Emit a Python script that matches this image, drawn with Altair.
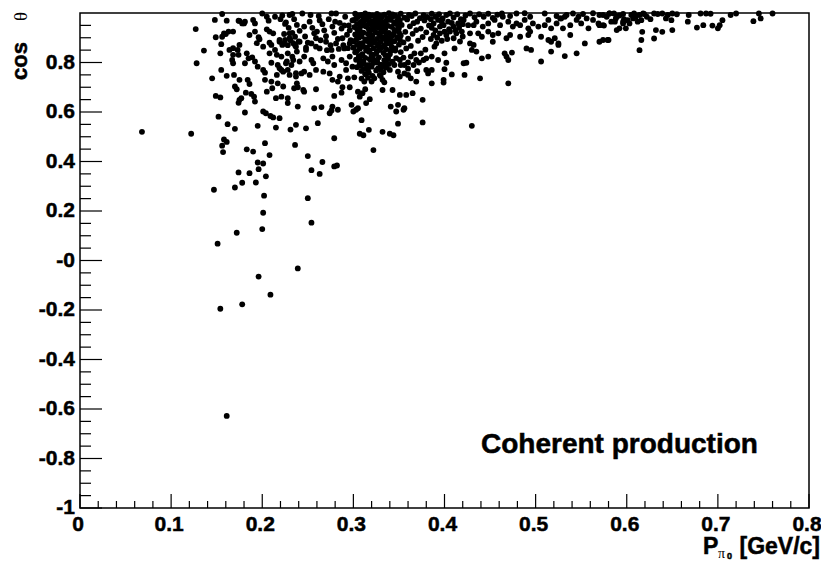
import altair as alt
import pandas as pd

# ---- data: (P_pi0 [GeV/c], cos theta) ----
low_pts = [
    (0.068, 0.520), (0.122, 0.512), (0.158, 0.489), (0.161, 0.479), (0.156, 0.464), (0.157, 0.438),
    (0.203, 0.474), (0.183, 0.449), (0.190, 0.440), (0.208, 0.426), (0.195, 0.396), (0.201, 0.392),
    (0.196, 0.369), (0.174, 0.356), (0.186, 0.353), (0.204, 0.340), (0.178, 0.314), (0.193, 0.315),
    (0.170, 0.295), (0.147, 0.286), (0.202, 0.262), (0.201, 0.193), (0.200, 0.127), (0.172, 0.112),
    (0.151, 0.068), (0.196, -0.065), (0.239, -0.032), (0.209, -0.138), (0.178, -0.177), (0.154, -0.195),
    (0.161, -0.628), (0.236, 0.467), (0.250, 0.422), (0.266, 0.398), (0.254, 0.365), (0.263, 0.350),
    (0.250, 0.252), (0.254, 0.153), (0.279, 0.380), (0.282, 0.384), (0.322, 0.446), (0.430, 0.544),
    (0.279, 0.494), (0.307, 0.512), (0.311, 0.506), (0.317, 0.528), (0.332, 0.520), (0.340, 0.512),
    (0.344, 0.506), (0.231, 0.529), (0.215, 0.537), (0.170, 0.532), (0.248, 0.534), (0.162, 0.551),
    (0.195, 0.544), (0.237, 0.548), (0.261, 0.555), (0.309, 0.567), (0.349, 0.553), (0.376, 0.558),
]

left_pts = [
    (0.127, 0.935), (0.136, 0.848), (0.128, 0.797), (0.145, 0.736), (0.149, 0.665), (0.154, 0.659),
    (0.152, 0.581), (0.148, 0.972), (0.156, 0.996), (0.161, 0.969), (0.149, 0.902), (0.156, 0.904),
    (0.158, 0.918), (0.163, 0.925), (0.168, 0.925), (0.174, 0.969), (0.178, 0.958), (0.181, 0.965),
    (0.190, 0.972), (0.192, 0.958), (0.200, 0.998), (0.205, 0.985), (0.207, 0.969), (0.214, 0.985),
    (0.220, 0.975), (0.225, 0.956), (0.230, 0.992), (0.233, 0.996), (0.155, 0.874), (0.164, 0.851),
    (0.168, 0.858), (0.173, 0.851), (0.175, 0.871), (0.168, 0.831), (0.174, 0.831), (0.183, 0.837),
    (0.185, 0.817), (0.181, 0.797), (0.167, 0.810), (0.168, 0.797), (0.154, 0.837), (0.155, 0.770),
    (0.161, 0.746), (0.169, 0.750), (0.175, 0.730), (0.170, 0.703), (0.172, 0.692), (0.184, 0.730),
    (0.186, 0.713), (0.182, 0.678), (0.175, 0.649), (0.177, 0.656), (0.174, 0.637), (0.188, 0.673),
    (0.191, 0.662), (0.192, 0.642), (0.181, 0.598), (0.189, 0.821), (0.192, 0.804), (0.195, 0.783),
    (0.201, 0.770), (0.203, 0.759), (0.194, 0.878), (0.201, 0.864), (0.186, 0.911), (0.192, 0.925),
    (0.196, 0.902), (0.197, 0.894), (0.205, 0.934), (0.208, 0.925), (0.212, 0.918), (0.208, 0.880),
    (0.210, 0.871), (0.214, 0.851), (0.219, 0.884), (0.222, 0.871), (0.208, 0.837), (0.216, 0.831),
    (0.210, 0.799), (0.217, 0.790), (0.221, 0.770), (0.203, 0.730), (0.210, 0.723), (0.216, 0.750),
    (0.205, 0.682), (0.211, 0.696), (0.215, 0.656), (0.221, 0.662), (0.228, 0.656), (0.217, 0.716),
    (0.223, 0.703), (0.238, 0.716), (0.239, 0.700), (0.237, 0.757), (0.230, 0.750), (0.228, 0.636),
    (0.239, 0.622), (0.201, 0.602), (0.204, 0.595), (0.209, 0.584), (0.212, 0.578), (0.219, 0.575),
    (0.230, 0.918), (0.236, 0.904), (0.234, 0.878), (0.225, 0.891), (0.228, 0.837), (0.233, 0.824),
    (0.238, 0.844), (0.227, 0.804), (0.232, 0.790), (0.160, 0.915), (0.175, 0.968), (0.180, 0.958),
]

mid_pts = [
    (0.221, 0.824), (0.226, 0.797), (0.234, 0.810), (0.241, 0.804), (0.246, 0.824), (0.254, 0.810),
    (0.256, 0.797), (0.267, 0.817), (0.272, 0.804), (0.277, 0.824), (0.279, 0.790), (0.287, 0.810),
    (0.292, 0.797), (0.296, 0.824), (0.299, 0.783), (0.351, 0.810), (0.356, 0.790),
    (0.363, 0.824), (0.369, 0.810), (0.374, 0.837), (0.380, 0.817),
    (0.223, 0.763), (0.228, 0.770), (0.219, 0.777), (0.237, 0.743), (0.243, 0.756), (0.246, 0.763),
    (0.252, 0.750), (0.259, 0.770), (0.267, 0.763), (0.274, 0.756), (0.277, 0.730), (0.283, 0.723),
    (0.285, 0.743), (0.292, 0.770), (0.294, 0.736), (0.301, 0.740), (0.309, 0.735), (0.312, 0.723),
    (0.316, 0.738), (0.320, 0.723), (0.323, 0.736), (0.330, 0.745), (0.332, 0.730),
    (0.334, 0.720), (0.349, 0.763), (0.351, 0.743), (0.356, 0.756), (0.360, 0.750), (0.363, 0.736),
    (0.380, 0.770), (0.382, 0.756), (0.369, 0.723),
    (0.235, 0.696), (0.245, 0.689), (0.246, 0.682), (0.259, 0.692), (0.279, 0.665), (0.287, 0.678),
    (0.288, 0.700), (0.296, 0.700), (0.305, 0.682), (0.307, 0.662), (0.310, 0.676), (0.313, 0.692),
    (0.332, 0.689), (0.343, 0.689), (0.351, 0.669), (0.358, 0.669), (0.365, 0.676), (0.376, 0.649),
    (0.257, 0.615), (0.265, 0.620), (0.277, 0.622), (0.283, 0.609), (0.298, 0.629), (0.305, 0.615),
    (0.314, 0.636), (0.318, 0.652), (0.341, 0.622), (0.349, 0.629), (0.356, 0.615), (0.274, 0.595),
    (0.276, 0.606), (0.300, 0.602), (0.303, 0.609), (0.347, 0.602), (0.355, 0.609),
    (0.340, 0.770), (0.345, 0.790), (0.352, 0.790), (0.360, 0.800), (0.366, 0.790), (0.372, 0.800),
    (0.377, 0.810), (0.355, 0.820), (0.360, 0.775), (0.370, 0.765),
]

band_pts = [
    (0.222, 0.990), (0.226, 0.962), (0.229, 0.940), (0.224, 0.915), (0.231, 0.890), (0.235, 0.975),
    (0.238, 0.952), (0.241, 0.928), (0.236, 0.870), (0.244, 0.998), (0.247, 0.905), (0.250, 0.880),
    (0.252, 0.965), (0.255, 0.940), (0.257, 0.918), (0.259, 0.864), (0.262, 0.988), (0.264, 0.890),
    (0.266, 0.955), (0.268, 0.930), (0.270, 0.906), (0.273, 0.975), (0.275, 0.870), (0.277, 0.945),
    (0.279, 0.920), (0.281, 0.998), (0.283, 0.895), (0.285, 0.960), (0.287, 0.937), (0.289, 0.870),
    (0.291, 0.985), (0.293, 0.912), (0.295, 0.950), (0.297, 0.890), (0.299, 0.970), (0.228, 0.870),
    (0.233, 0.920), (0.246, 0.945), (0.253, 0.992), (0.260, 0.925), (0.271, 0.850), (0.276, 0.998),
    (0.284, 0.855), (0.290, 0.950), (0.296, 0.930), (0.240, 0.885), (0.248, 0.860), (0.263, 0.970),
    (0.280, 0.965), (0.294, 0.858), (0.219, 0.891), (0.224, 0.877), (0.230, 0.898), (0.237, 0.864),
    (0.241, 0.884), (0.248, 0.851), (0.254, 0.877), (0.259, 0.898), (0.263, 0.857), (0.270, 0.884),
    (0.276, 0.851), (0.281, 0.877), (0.288, 0.898), (0.290, 0.857), (0.296, 0.877),
]

# densest blob (x 0.30-0.35, cos 0.75-1) and the medium-dense part to its right
core_pts = [
    (0.302, 0.997), (0.309, 0.992), (0.313, 0.998), (0.321, 0.990), (0.326, 0.996), (0.334, 0.993),
    (0.339, 0.999), (0.346, 0.989), (0.352, 0.997), (0.361, 0.992), (0.368, 0.998), (0.377, 0.991),
    (0.305, 0.985), (0.311, 0.978), (0.318, 0.987), (0.324, 0.980), (0.331, 0.983), (0.337, 0.977),
    (0.343, 0.986), (0.356, 0.981), (0.364, 0.988), (0.373, 0.979), (0.381, 0.984),
    (0.300, 0.971), (0.308, 0.964), (0.315, 0.973), (0.320, 0.966), (0.328, 0.969), (0.333, 0.963),
    (0.341, 0.972), (0.348, 0.967), (0.359, 0.974), (0.370, 0.965), (0.378, 0.970),
    (0.304, 0.956), (0.312, 0.949), (0.317, 0.958), (0.325, 0.951), (0.330, 0.954), (0.338, 0.948),
    (0.345, 0.957), (0.353, 0.952), (0.366, 0.959), (0.383, 0.950),
    (0.301, 0.943), (0.307, 0.936), (0.314, 0.945), (0.322, 0.938), (0.327, 0.941), (0.335, 0.935),
    (0.342, 0.944), (0.350, 0.939), (0.362, 0.946), (0.374, 0.937),
    (0.305, 0.928), (0.311, 0.921), (0.319, 0.930), (0.324, 0.923), (0.332, 0.926), (0.339, 0.920),
    (0.347, 0.929), (0.357, 0.924), (0.369, 0.931), (0.380, 0.922),
    (0.302, 0.913), (0.309, 0.906), (0.316, 0.915), (0.321, 0.908), (0.329, 0.911), (0.336, 0.905),
    (0.344, 0.914), (0.352, 0.909), (0.365, 0.916),
    (0.306, 0.900), (0.313, 0.893), (0.318, 0.902), (0.326, 0.895), (0.333, 0.898), (0.340, 0.892),
    (0.348, 0.901), (0.360, 0.896), (0.376, 0.903),
    (0.300, 0.885), (0.310, 0.878), (0.315, 0.887), (0.323, 0.880), (0.330, 0.883), (0.337, 0.877),
    (0.345, 0.886), (0.355, 0.881), (0.371, 0.888),
    (0.304, 0.871), (0.311, 0.864), (0.319, 0.873), (0.327, 0.866), (0.334, 0.869), (0.342, 0.863),
    (0.350, 0.872), (0.363, 0.867),
    (0.307, 0.856), (0.314, 0.849), (0.322, 0.858), (0.329, 0.851), (0.336, 0.854), (0.346, 0.848),
    (0.358, 0.857), (0.379, 0.852),
    (0.302, 0.841), (0.310, 0.834), (0.317, 0.843), (0.325, 0.836), (0.333, 0.839), (0.340, 0.833),
    (0.352, 0.842), (0.367, 0.837),
    (0.306, 0.826), (0.313, 0.819), (0.320, 0.828), (0.328, 0.821), (0.338, 0.824), (0.347, 0.818),
    (0.303, 0.811), (0.311, 0.804), (0.318, 0.813), (0.326, 0.806), (0.334, 0.809), (0.343, 0.803),
    (0.307, 0.796), (0.315, 0.789), (0.322, 0.798), (0.330, 0.791), (0.339, 0.794),
    (0.304, 0.781), (0.312, 0.774), (0.320, 0.783), (0.327, 0.776), (0.336, 0.779),
    (0.309, 0.766), (0.317, 0.759), (0.325, 0.768), (0.333, 0.761),
    (0.313, 0.753), (0.321, 0.746), (0.329, 0.750),
]

# the blob is nearly solid black: more events in between
core_fill_pts = [
    (0.306, 0.990), (0.317, 0.993), (0.330, 0.988), (0.343, 0.994), (0.349, 0.982),
    (0.303, 0.978), (0.314, 0.980), (0.328, 0.976), (0.340, 0.979), (0.351, 0.970),
    (0.311, 0.966), (0.324, 0.961), (0.336, 0.967), (0.345, 0.962),
    (0.308, 0.950), (0.320, 0.952), (0.334, 0.946), (0.349, 0.950),
    (0.304, 0.936), (0.317, 0.934), (0.330, 0.937), (0.345, 0.932),
    (0.308, 0.918), (0.327, 0.919), (0.336, 0.916), (0.350, 0.922),
    (0.305, 0.905), (0.318, 0.908), (0.331, 0.903), (0.342, 0.906),
    (0.303, 0.892), (0.321, 0.890), (0.336, 0.889), (0.351, 0.893),
    (0.307, 0.876), (0.318, 0.879), (0.327, 0.874), (0.341, 0.878),
    (0.300, 0.860), (0.315, 0.861), (0.331, 0.862), (0.346, 0.857),
    (0.304, 0.846), (0.318, 0.848), (0.326, 0.845), (0.341, 0.846),
    (0.309, 0.829), (0.322, 0.832), (0.335, 0.830),
    (0.307, 0.815), (0.322, 0.812), (0.338, 0.815),
    (0.311, 0.797), (0.326, 0.800), (0.335, 0.800),
    (0.308, 0.787), (0.318, 0.790), (0.333, 0.786),
    (0.316, 0.770), (0.330, 0.772),
]

right_pts = [
    (0.386, 0.997), (0.390, 0.985), (0.394, 0.995), (0.398, 0.978), (0.402, 0.992), (0.406, 0.998),
    (0.410, 0.982), (0.414, 0.995), (0.418, 0.975), (0.423, 0.990), (0.428, 0.998), (0.433, 0.983),
    (0.438, 0.995), (0.443, 0.985), (0.448, 0.997), (0.453, 0.980), (0.458, 0.993), (0.463, 0.998),
    (0.472, 0.988), (0.479, 0.998), (0.488, 0.999), (0.494, 0.985), (0.510, 0.998), (0.523, 0.988),
    (0.528, 0.978), (0.534, 0.992), (0.541, 0.998), (0.547, 0.985), (0.552, 0.996), (0.563, 0.999),
    (0.570, 0.992), (0.581, 0.998), (0.589, 0.985), (0.596, 0.996),
    (0.388, 0.958), (0.393, 0.972), (0.399, 0.951), (0.404, 0.965), (0.410, 0.945), (0.415, 0.958),
    (0.421, 0.972), (0.426, 0.951), (0.432, 0.951), (0.435, 0.965), (0.442, 0.945), (0.448, 0.958),
    (0.455, 0.972), (0.461, 0.951), (0.464, 0.985), (0.470, 0.965), (0.475, 0.945), (0.479, 0.958),
    (0.483, 0.951), (0.488, 0.972), (0.492, 0.938), (0.494, 0.925), (0.497, 0.958), (0.503, 0.945),
    (0.510, 0.951), (0.514, 0.972), (0.517, 0.938), (0.523, 0.958), (0.527, 0.978), (0.530, 0.938),
    (0.532, 0.985), (0.538, 0.951), (0.545, 0.972), (0.550, 0.958), (0.556, 0.978), (0.558, 0.938),
    (0.563, 0.972), (0.569, 0.958), (0.574, 0.951), (0.587, 0.965), (0.589, 0.931), (0.596, 0.958),
    (0.388, 0.911), (0.395, 0.918), (0.402, 0.911), (0.406, 0.925), (0.413, 0.918), (0.419, 0.925),
    (0.428, 0.918), (0.437, 0.918), (0.441, 0.904), (0.448, 0.925), (0.453, 0.911), (0.453, 0.884),
    (0.459, 0.918), (0.468, 0.898), (0.472, 0.911), (0.483, 0.904), (0.492, 0.911), (0.506, 0.904),
    (0.514, 0.891), (0.517, 0.884), (0.521, 0.898), (0.525, 0.877), (0.538, 0.911), (0.554, 0.877),
    (0.570, 0.884), (0.580, 0.891),
    (0.389, 0.864), (0.391, 0.877), (0.386, 0.824), (0.400, 0.837), (0.411, 0.857), (0.421, 0.797),
    (0.424, 0.799), (0.428, 0.877), (0.430, 0.851), (0.432, 0.871), (0.435, 0.844), (0.441, 0.817),
    (0.448, 0.824), (0.466, 0.837), (0.468, 0.824), (0.470, 0.810), (0.474, 0.840), (0.490, 0.857),
    (0.495, 0.851), (0.506, 0.804), (0.517, 0.844), (0.525, 0.871), (0.532, 0.826), (0.545, 0.837),
    (0.386, 0.770), (0.393, 0.810), (0.400, 0.773), (0.402, 0.799), (0.408, 0.752), (0.422, 0.750),
    (0.439, 0.736), (0.399, 0.730), (0.399, 0.719), (0.386, 0.716), (0.470, 0.716),
    (0.386, 0.940), (0.390, 0.930), (0.395, 0.945), (0.400, 0.925), (0.405, 0.935), (0.408, 0.960),
    (0.412, 0.930), (0.416, 0.940), (0.420, 0.905), (0.385, 0.895), (0.392, 0.900), (0.397, 0.888),
    (0.403, 0.895), (0.410, 0.898), (0.417, 0.885), (0.385, 0.975), (0.397, 0.965), (0.420, 0.955),
]

far_pts = [
    (0.574, 0.992), (0.581, 0.998), (0.586, 0.998), (0.588, 0.978), (0.592, 0.938), (0.596, 0.965),
    (0.599, 0.938), (0.601, 0.971), (0.605, 0.992), (0.607, 0.978), (0.608, 0.998), (0.610, 0.985),
    (0.614, 0.992), (0.616, 0.971), (0.618, 0.998), (0.619, 0.996), (0.617, 0.924), (0.616, 0.891),
    (0.614, 0.850), (0.630, 0.998), (0.634, 0.996), (0.639, 0.998), (0.643, 0.978), (0.649, 0.971),
    (0.650, 0.998), (0.632, 0.931), (0.639, 0.924), (0.650, 0.931), (0.630, 0.897), (0.668, 0.992),
    (0.667, 0.965), (0.677, 0.941), (0.681, 0.998), (0.684, 0.951), (0.687, 0.998), (0.692, 0.997),
    (0.694, 0.949), (0.700, 0.938), (0.702, 0.951), (0.705, 0.971), (0.714, 0.992), (0.720, 0.998),
    (0.739, 0.967), (0.747, 0.978), (0.745, 0.998), (0.760, 0.998), (0.574, 0.891), (0.579, 0.891),
    (0.570, 0.951), (0.575, 0.949), (0.578, 0.985), (0.583, 0.965), (0.592, 0.990), (0.597, 0.975),
    (0.603, 0.958), (0.612, 0.965), (0.622, 0.985), (0.626, 0.975), (0.645, 0.992), (0.655, 0.995),
]

# ---- axis ticks and labels ----
x_major_ticks = [0, 0.1, 0.2, 0.3, 0.4, 0.5, 0.6, 0.7, 0.8]
x_tick_labels = ["0", "0.1", "0.2", "0.3", "0.4", "0.5", "0.6", "0.7", "0.8"]
x_minor_ticks = [0.02, 0.04, 0.06, 0.08, 0.12, 0.14, 0.16, 0.18, 0.22, 0.24, 0.26, 0.28,
                 0.32, 0.34, 0.36, 0.38, 0.42, 0.44, 0.46, 0.48, 0.52, 0.54, 0.56, 0.58,
                 0.62, 0.64, 0.66, 0.68, 0.72, 0.74, 0.76, 0.78]
y_major_ticks = [-1, -0.8, -0.6, -0.4, -0.2, 0, 0.2, 0.4, 0.6, 0.8]
y_tick_labels = ["-1", "-0.8", "-0.6", "-0.4", "-0.2", "-0", "0.2", "0.4", "0.6", "0.8"]
y_minor_ticks = [-0.95, -0.9, -0.85, -0.75, -0.7, -0.65, -0.55, -0.5, -0.45, -0.35, -0.3, -0.25,
                 -0.15, -0.1, -0.05, 0.05, 0.1, 0.15, 0.25, 0.3, 0.35, 0.45, 0.5, 0.55,
                 0.65, 0.7, 0.75, 0.85, 0.9, 0.95]

annotation = ["Coherent production"]
x_title_main = ["P"]
x_title_sub = ["π"]
x_title_subsub = ["0"]
x_title_unit = ["[GeV/c]"]
y_title_main = ["cos"]
y_title_sym = ["θ"]

all_pts = (low_pts + left_pts + mid_pts + band_pts + core_pts + core_fill_pts
           + right_pts + far_pts)
df = pd.DataFrame(all_pts, columns=["p", "c"])

FONT = "Liberation Sans"
HEAVY = dict(stroke="black", strokeWidth=0.5)

points = alt.Chart(df).mark_circle(size=34, color="black", opacity=1).encode(
    x=alt.X("p:Q", scale=alt.Scale(domain=[0, 0.8], nice=False, zero=False), axis=None),
    y=alt.Y("c:Q", scale=alt.Scale(domain=[-1, 1], nice=False, zero=False), axis=None),
)

xmaj = alt.Chart(pd.DataFrame({"p": x_major_ticks})).mark_rule(color="black", strokeWidth=1.2).encode(
    x="p:Q", y=alt.value(495), y2=alt.value(481))
xmin = alt.Chart(pd.DataFrame({"p": x_minor_ticks})).mark_rule(color="black", strokeWidth=1.2).encode(
    x="p:Q", y=alt.value(495), y2=alt.value(488))
ymaj = alt.Chart(pd.DataFrame({"c": y_major_ticks})).mark_rule(color="black", strokeWidth=1.2).encode(
    y="c:Q", x=alt.value(0), x2=alt.value(22))
ymin = alt.Chart(pd.DataFrame({"c": y_minor_ticks})).mark_rule(color="black", strokeWidth=1.2).encode(
    y="c:Q", x=alt.value(0), x2=alt.value(11))

xlab = alt.Chart(pd.DataFrame({"p": x_major_ticks, "t": x_tick_labels})).mark_text(
    align="center", baseline="alphabetic", font=FONT, fontWeight="bold", fontSize=21,
    color="black", dx=-2, **HEAVY).encode(x="p:Q", y=alt.value(518), text="t:N")
ylab = alt.Chart(pd.DataFrame({"c": y_major_ticks, "t": y_tick_labels})).mark_text(
    align="right", baseline="middle", font=FONT, fontWeight="bold", fontSize=21,
    color="black", **HEAVY).encode(y="c:Q", x=alt.value(-5), text="t:N")


def label(texts, x, y, size, weight="bold", font=FONT, align="left", angle=0, heavy=True):
    kw = dict(align=align, baseline="alphabetic", font=font, fontSize=size,
              fontWeight=weight, color="black")
    if heavy:
        kw.update(HEAVY)
    if angle:
        kw["angle"] = angle
    return alt.Chart(pd.DataFrame({"t": texts})).mark_text(**kw).encode(
        text="t:N", x=alt.value(x), y=alt.value(y))


texts = [
    label(annotation, 401, 440, 28),
    label(x_title_main, 623, 541, 23),
    label(x_title_sub, 638, 545, 14, weight="normal", font="Liberation Serif", heavy=False),
    label(x_title_subsub, 647, 546, 9),
    label(x_title_unit, 740, 541, 23, align="right"),
    label(y_title_main, -53, 29, 22, align="right", angle=270),
    label(y_title_sym, -53, -1, 19, weight="normal", font="Liberation Serif", align="right",
          angle=270, heavy=False),
]

chart = alt.layer(points, xmaj, xmin, ymaj, ymin, xlab, ylab, *texts).properties(
    width=729, height=495,
    autosize=alt.AutoSizeParams(type="none"),
    padding={"left": 72, "top": 5, "right": 12, "bottom": 52},
    background="white",
).configure_view(stroke="black", strokeWidth=1.5)

chart.save("out.html", embed_options={"renderer": "svg", "actions": False})
